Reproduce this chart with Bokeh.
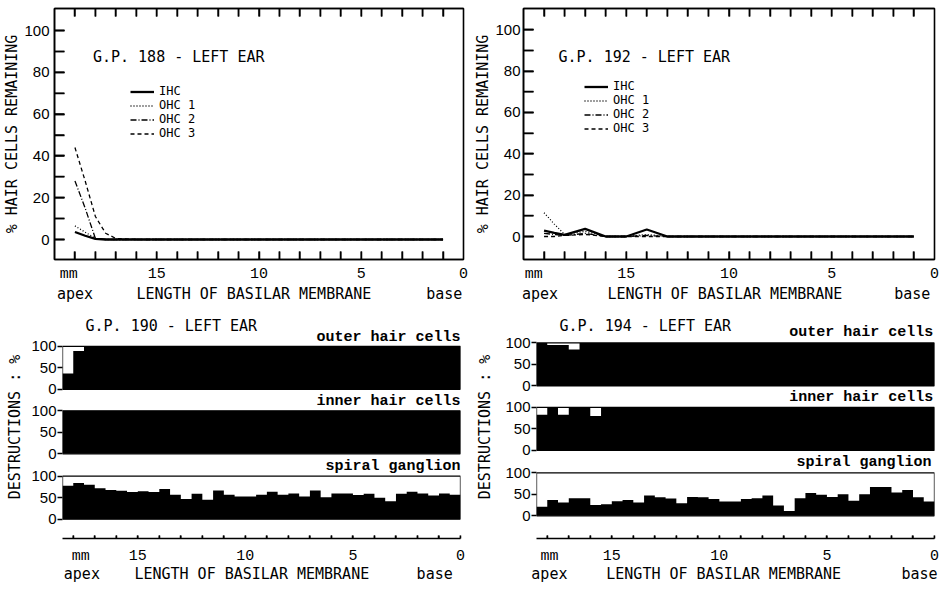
import math
from bokeh.plotting import figure
from bokeh.models import Range1d, LinearAxis, FixedTicker, Label, Legend, LegendItem
from bokeh.layouts import row, column
from bokeh.embed import file_html
from bokeh.resources import INLINE

# ---------------- data ----------------
# Upper panels: % hair cells remaining, position in mm from the base
SERIES = ["IHC", "OHC 1", "OHC 2", "OHC 3"]

mm_188 = [19, 18.5, 18, 17.5, 17, 16, 15, 14, 13, 12, 11, 10, 9, 8, 7, 6, 5, 4, 3, 2, 1]
ihc_188 = [3.6, 1.8, 0.3, 0, 0, 0, 0, 0, 0, 0, 0, 0, 0, 0, 0, 0, 0, 0, 0, 0, 0]
ohc1_188 = [6.5, 3.5, 0.5, 0, 0, 0, 0, 0, 0, 0, 0, 0, 0, 0, 0, 0, 0, 0, 0, 0, 0]
ohc2_188 = [28, 15, 0.5, 0, 0, 0, 0, 0, 0, 0, 0, 0, 0, 0, 0, 0, 0, 0, 0, 0, 0]
ohc3_188 = [44, 28, 11, 3, 0.5, 0, 0, 0, 0, 0, 0, 0, 0, 0, 0, 0, 0, 0, 0, 0, 0]

mm_192 = [19, 18.5, 18, 17, 16, 15, 14, 13, 12, 11, 10, 9, 8, 7, 6, 5, 4, 3, 2, 1]
ihc_192 = [2.9, 1.8, 0.8, 3.7, 0, 0, 3.4, 0, 0, 0, 0, 0, 0, 0, 0, 0, 0, 0, 0, 0]
ohc1_192 = [11.5, 6, 1, 2.5, 0, 0, 1, 0, 0, 0, 0, 0, 0, 0, 0, 0, 0, 0, 0, 0]
ohc2_192 = [1.5, 1, 0.5, 1.5, 0, 0, 0.5, 0, 0, 0, 0, 0, 0, 0, 0, 0, 0, 0, 0, 0]
ohc3_192 = [0, 0, 0.5, 1, 0, 0, 0, 0, 0, 0, 0, 0, 0, 0, 0, 0, 0, 0, 0, 0]

# Lower panels: % destruction in 0.5 mm bins (apex -> base)
bin_start_mm = [18.5, 18.0, 17.5, 17.0, 16.5, 16.0, 15.5, 15.0, 14.5, 14.0, 13.5, 13.0, 12.5,
                12.0, 11.5, 11.0, 10.5, 10.0, 9.5, 9.0, 8.5, 8.0, 7.5, 7.0, 6.5, 6.0, 5.5,
                5.0, 4.5, 4.0, 3.5, 3.0, 2.5, 2.0, 1.5, 1.0, 0.5]
bin_end_mm = [18.0, 17.5, 17.0, 16.5, 16.0, 15.5, 15.0, 14.5, 14.0, 13.5, 13.0, 12.5, 12.0,
              11.5, 11.0, 10.5, 10.0, 9.5, 9.0, 8.5, 8.0, 7.5, 7.0, 6.5, 6.0, 5.5, 5.0,
              4.5, 4.0, 3.5, 3.0, 2.5, 2.0, 1.5, 1.0, 0.5, 0.0]
SUBPANELS = ["spiral ganglion", "inner hair cells", "outer hair cells"]

outer_190 = [37, 89] + [100] * 35
inner_190 = [100] * 37
spiral_190 = [78, 84, 80, 72, 68, 66, 63, 65, 63, 70, 57, 47, 59, 45, 67, 57, 53, 53, 57,
              64, 57, 60, 53, 67, 51, 60, 60, 56, 59, 50, 42, 59, 64, 60, 55, 60, 57]

outer_194 = [100, 95, 95, 85] + [100] * 33
inner_194 = [83, 100, 83, 100, 100, 80] + [100] * 31
spiral_194 = [21, 37, 31, 41, 41, 25, 27, 34, 37, 31, 47, 43, 40, 29, 44, 43, 39, 33, 33,
              39, 41, 47, 24, 11, 41, 53, 49, 44, 50, 35, 50, 67, 67, 54, 60, 43, 33]

MM_LABEL_TICKS = [15, 10, 5, 0]
MM_TOP_TICKS = [1, 2, 3, 4, 5, 6, 7, 8, 9, 10, 11, 12, 13, 14, 15, 16, 17, 18, 19]
MM_BOTTOM_TICKS = [0, 1, 2, 3, 4, 5, 6, 7, 8, 9, 10, 11, 12, 13, 14, 15, 16, 17, 18]
PCT_LABEL_TICKS = [0, 20, 40, 60, 80, 100]
PCT_TICKS = [0, 10, 20, 30, 40, 50, 60, 70, 80, 90, 100]
DESTR_TICKS = [0, 50, 100]

# ---------------- style / layout ----------------
INK = "black"
MONO = "DejaVu Sans Mono"
TYPE = "Liberation Mono"
SANS = "Liberation Sans"
LINE_STYLES = [("solid", 2.3), ("1 2", 1.3), ("6 2 1 2", 1.3), ("4 3", 1.3)]
OFFSETS = [0, 152, 302]   # vertical stacking of the three strips
PPU_BOTTOM = 0.43         # px per % in lower strips


def to_data(g, p, x, y):
    fl, frr, ft, fb = g["frame"]
    xr, yr = p.x_range, p.y_range
    dx = xr.start + (x - fl) / (frr - fl) * (xr.end - xr.start)
    dy = yr.start + (fb - y) / (fb - ft) * (yr.end - yr.start)
    return dx, dy


def label(p, g, text, x, y, align="center", font=MONO, size=15, style="normal"):
    dx, dy = to_data(g, p, x, y)
    p.add_layout(Label(x=dx, y=dy, text=text, text_align=align, text_baseline="middle",
                       text_font=font, text_font_size=f"{size}px", text_font_style=style,
                       text_color=INK))


def x_axes(p, g, minor, tick_in):
    pos = g["xpos"]  # positions (mm) where the under-axis words sit
    ax = LinearAxis(ticker=FixedTicker(ticks=[pos["mm"]] + MM_LABEL_TICKS, minor_ticks=minor),
                    major_label_overrides={pos["mm"]: "mm"}, axis_label=None,
                    axis_line_color="black", axis_line_width=1.5,
                    major_tick_line_color=None, minor_tick_line_color="black",
                    minor_tick_line_width=1.5, minor_tick_in=tick_in, minor_tick_out=0,
                    major_tick_in=0, major_tick_out=0,
                    major_label_standoff=g["s1"], major_label_text_font=TYPE,
                    major_label_text_font_size="15px", major_label_text_color=INK)
    bx = LinearAxis(ticker=FixedTicker(ticks=[pos["apex"], pos["length"], pos["base"]]),
                    major_label_overrides={pos["apex"]: "apex",
                                           pos["length"]: "LENGTH OF BASILAR MEMBRANE",
                                           pos["base"]: "base"},
                    axis_label=None, axis_line_color=None, major_tick_line_color=None,
                    minor_tick_line_color=None, major_tick_in=0, major_tick_out=0,
                    major_label_standoff=g["s2"], major_label_text_font=MONO,
                    major_label_text_font_size="15px", major_label_text_color=INK)
    p.add_layout(ax, "below")
    p.add_layout(bx, "below")


def make_fig(g, x_range, y_range):
    (ox, oy), (w, h) = g["origin"], g["size"]
    fl, frr, ft, fb = g["frame"]
    p = figure(width=w, height=h, x_range=x_range, y_range=y_range,
               x_axis_type=None, y_axis_type=None, title=None,
               output_backend="svg", toolbar_location=None,
               min_border_left=fl - ox, min_border_right=ox + w - frr,
               min_border_top=ft - oy, min_border_bottom=oy + h - fb)
    return p


def top_panel(g, mm, series, title):
    fl, frr, ft, fb = g["frame"]
    ppu = (g["y0"] - g["y100"]) / 100.0
    ys = -(fb - g["y0"]) / ppu
    ye = ys + (fb - ft) / ppu
    p = make_fig(g, Range1d(20, 0), Range1d(ys, ye))
    p.outline_line_color = INK
    p.outline_line_width = 1.6

    # inward tick marks drawn as glyphs (top, bottom, left edges)
    upx = (ye - ys) / (fb - ft)
    xpx = 20.0 / (frr - fl)
    n = len(MM_TOP_TICKS)
    p.segment(x0=MM_TOP_TICKS, x1=MM_TOP_TICKS, y0=[ye] * n, y1=[ye - g["tick"] * upx] * n,
              line_color="black", line_width=1.5)
    p.segment(x0=MM_TOP_TICKS, x1=MM_TOP_TICKS, y0=[ys] * n, y1=[ys + g["tick"] * upx] * n,
              line_color="black", line_width=1.5)
    m = len(PCT_TICKS)
    p.segment(x0=[20] * m, x1=[20 - 10 * xpx] * m, y0=PCT_TICKS, y1=PCT_TICKS,
              line_color="black", line_width=1.5)

    rs = []
    for vals, (dash, lw) in zip(series, LINE_STYLES):
        rs.append(p.line(mm, vals, line_color=INK, line_width=lw, line_dash=dash))

    x_axes(p, g, MM_TOP_TICKS, g["tick"])
    xa = LinearAxis(ticker=FixedTicker(ticks=[], minor_ticks=MM_TOP_TICKS), axis_label=None,
                    axis_line_color="black", axis_line_width=1.5,
                    major_tick_line_color=None, minor_tick_line_color="black",
                    minor_tick_line_width=1.5, minor_tick_in=g["tick"], minor_tick_out=0,
                    major_label_standoff=0)
    p.add_layout(xa, "above")
    yl = LinearAxis(ticker=FixedTicker(ticks=PCT_LABEL_TICKS, minor_ticks=PCT_TICKS),
                    axis_line_color="black", axis_line_width=1.5,
                    major_tick_line_color="black", minor_tick_line_color="black",
                    major_tick_line_width=1.5, minor_tick_line_width=1.5,
                    major_tick_in=10, major_tick_out=0, minor_tick_in=10, minor_tick_out=0,
                    major_label_text_font=SANS, major_label_text_font_size="15px",
                    major_label_text_color=INK, major_label_standoff=g["ys"],
                    axis_label="% HAIR CELLS REMAINING", axis_label_standoff=0,
                    axis_label_text_font=MONO, axis_label_text_font_size="15px",
                    axis_label_text_font_style="normal", axis_label_text_color=INK)
    p.add_layout(yl, "left")

    lx, ltop = g["legend"]
    p.add_layout(Legend(items=[LegendItem(label=s, renderers=[r]) for s, r in zip(SERIES, rs)],
                        location=(lx - fl, fb - (ltop + 57)), orientation="vertical",
                        glyph_width=24, glyph_height=13, label_height=13, spacing=0,
                        padding=0, margin=0, label_standoff=5, border_line_color=None,
                        background_fill_alpha=0, label_text_font=MONO,
                        label_text_font_size="12px", label_text_color=INK))
    label(p, g, title, *g["title"], align="left")
    return p


def bottom_panel(g, title, outer, inner, spiral):
    fl, frr, ft, fb = g["frame"]
    ys = -(fb - g["zero"]) / PPU_BOTTOM
    ye = ys + (fb - ft) / PPU_BOTTOM
    p = make_fig(g, Range1d(bin_start_mm[0], bin_end_mm[-1]), Range1d(ys, ye))
    p.outline_line_color = None

    xs = bin_start_mm + [bin_end_mm[-1]]
    for off, vals in zip(OFFSETS, [spiral, inner, outer]):
        p.varea_step(x=xs, y1=[off] * len(xs), y2=[off + v for v in vals] + [off + vals[-1]],
                     step_mode="after", fill_color="black")
        p.quad(left=[bin_start_mm[0]], right=[bin_end_mm[-1]], bottom=[off], top=[off + 100],
               fill_color=None, line_color=INK, line_width=1.3)
    n = len(MM_BOTTOM_TICKS)
    p.segment(x0=MM_BOTTOM_TICKS, x1=MM_BOTTOM_TICKS, y0=[ys] * n,
              y1=[ys + g["tick"] / PPU_BOTTOM] * n, line_color="black", line_width=1.4)

    ytk = [off + t for off in OFFSETS for t in DESTR_TICKS]
    yov = {off + t: str(t) for off in OFFSETS for t in DESTR_TICKS}
    yl = LinearAxis(ticker=FixedTicker(ticks=ytk), major_label_overrides=yov,
                    axis_line_color=None, major_tick_in=0, major_tick_out=5,
                    major_tick_line_color=INK, major_tick_line_width=1.3,
                    minor_tick_line_color=None, major_label_standoff=1,
                    major_label_text_font=SANS, major_label_text_font_size="15px",
                    major_label_text_color=INK,
                    axis_label="DESTRUCTIONS : %", axis_label_standoff=g["yts"],
                    axis_label_text_font=MONO, axis_label_text_font_size="15px",
                    axis_label_text_font_style="normal", axis_label_text_color=INK)
    p.add_layout(yl, "left")
    x_axes(p, g, MM_BOTTOM_TICKS, g["tick"])

    label(p, g, title, *g["title"], align="left")
    for name, key in zip(SUBPANELS, ["spiral", "inner", "outer"]):
        label(p, g, name, *g[key], align="right", font=TYPE, size=15, style="bold")
    return p


# frames of panels in the same row share top and bottom (Bokeh aligns them)
TL = dict(origin=(0, 0), size=(471, 314), frame=(48, 463, 8, 259), y0=239, y100=30,
          s1=6, s2=-1, ys=5, tick=8, legend=(124, 83), title=(87, 56),
          xpos=dict(mm=19.3, apex=19.0, length=10.25, base=0.94))
TR = dict(origin=(471, 0), size=(471, 314), frame=(523, 934, 8, 259), y0=236, y100=29.3,
          s1=6, s2=-1, ys=3, tick=8, legend=(584, 78), title=(558, 56),
          xpos=dict(mm=19.5, apex=19.2, length=10.2, base=1.08))
BL = dict(origin=(0, 314), size=(471, 280), frame=(62, 460, 315, 538), zero=518.7,
          s1=9, s2=-3, yts=4, tick=3, title=(85, 325),
          outer=(460, 336.7), inner=(460, 401), spiral=(460, 465.7),
          xpos=dict(mm=17.65, apex=17.6, length=9.7, base=1.2))
BR = dict(origin=(471, 314), size=(471, 280), frame=(536, 934, 315, 538), zero=515.3,
          s1=9, s2=-3, yts=8, tick=3, title=(559, 325),
          outer=(932.7, 331.7), inner=(932.7, 397), spiral=(931, 461.7),
          xpos=dict(mm=17.9, apex=17.9, length=9.8, base=0.7))

p1 = top_panel(TL, mm_188, [ihc_188, ohc1_188, ohc2_188, ohc3_188], "G.P. 188 - LEFT EAR")
p2 = top_panel(TR, mm_192, [ihc_192, ohc1_192, ohc2_192, ohc3_192], "G.P. 192 - LEFT EAR")
p3 = bottom_panel(BL, "G.P. 190 - LEFT EAR", outer_190, inner_190, spiral_190)
p4 = bottom_panel(BR, "G.P. 194 - LEFT EAR", outer_194, inner_194, spiral_194)

lay = column(row(p1, p2, spacing=0), row(p3, p4, spacing=0), spacing=0)
open("out.html", "w").write(file_html(lay, INLINE))
